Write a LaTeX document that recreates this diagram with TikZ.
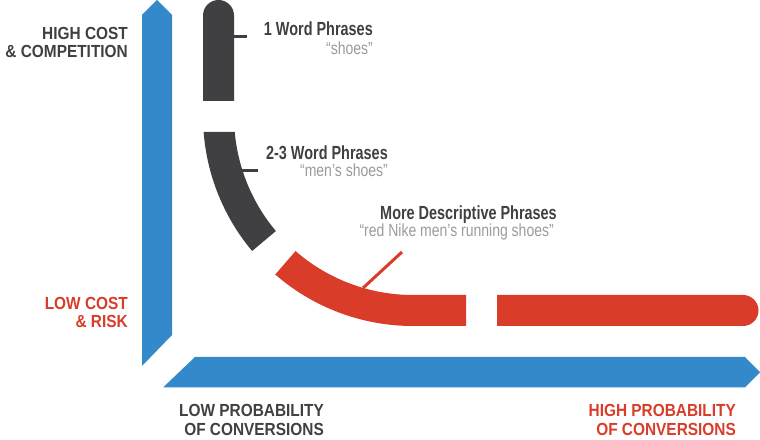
\documentclass[tikz,border=0pt]{standalone}
\usepackage{fontspec}
\setmainfont{Liberation Sans}
\newfontfamily\axisfont[FakeStretch=0.88]{Liberation Sans Bold}
\newfontfamily\titlefont[FakeStretch=0.76]{Liberation Sans Bold}
\newfontfamily\quotefont[FakeStretch=0.8]{Liberation Sans}
\definecolor{axisblue}{HTML}{3489CA}
\definecolor{keyred}{HTML}{D93C29}
\definecolor{darkgray}{HTML}{404042}
\definecolor{quotegray}{HTML}{9B9B9B}
\begin{document}
\begin{tikzpicture}[x=1pt,y=1pt,
  axislabel/.style={inner sep=0pt, anchor=base east, font=\axisfont\fontsize{17.5}{17.5}\selectfont},
  phrasetitle/.style={inner sep=0pt, anchor=base east, text=darkgray, font=\titlefont\fontsize{19}{19}\selectfont},
  phrasequote/.style={inner sep=0pt, anchor=base east, text=quotegray, font=\quotefont\fontsize{17.5}{17.5}\selectfont},
  ticker/.style={line width=3pt}]
\useasboundingbox (0,0) rectangle (760,439);
% axes
\fill[axisblue] (157,439) -- (172,424) -- (172,104) -- (142,73) -- (142,424) -- cycle;
\fill[axisblue] (163,51.5) -- (195,82) -- (745,82) -- (760,66.75) -- (745,51.5) -- cycle;
% centre of the curve
\coordinate (c) at (413,323);
% 1 word bar
\fill[darkgray] (203,338) -- (203,423.5) arc[start angle=180, end angle=0, radius=15.5pt] -- (234,338) -- cycle;
% 2-3 word arc
\fill[darkgray] (c) ++(184.37:210pt) arc[start angle=184.37, end angle=220, radius=210pt]
  -- ++(40:31pt) arc[start angle=220, end angle=185.13, radius=179pt] -- cycle;
% descriptive arc
\fill[keyred] (c) ++(229:210pt) arc[start angle=229, end angle=270, radius=210pt]
  -- (466,113) -- (466,144) -- (413,144) arc[start angle=270, end angle=229, radius=179pt] -- cycle;
\fill[keyred] (497,113) -- (743,113) arc[start angle=-90, end angle=90, radius=15.5pt] -- (497,144) -- cycle;
% ticks
\coordinate (t1a) at (234,402); \coordinate (t1b) at (247,402);
\coordinate (t2a) at (242,268); \coordinate (t2b) at (258,268);
\coordinate (t3a) at (363,151); \coordinate (t3b) at (402,187);
\draw[ticker, darkgray] (t1a) -- (t1b);
\draw[ticker, darkgray] (t2a) -- (t2b);
\draw[ticker, keyred] (t3a) -- (t3b);
% phrase labels
\node[phrasetitle] (p1) at (373,403) {1 Word Phrases};
\node[phrasequote] (q1) at (373,384) {“shoes”};
\node[phrasetitle] (p2) at (388,279.5) {2-3 Word Phrases};
\node[phrasequote] (q2) at (388,262) {“men’s shoes”};
\node[phrasetitle] (p3) at (557,219.5) {More Descriptive Phrases};
\node[phrasequote] (q3) at (554,202) {“red Nike men’s running shoes”};
% axis labels
\node[axislabel, text=darkgray] (hc1) at (128,399) {HIGH COST};
\node[axislabel, text=darkgray] (hc2) at (128,381.5) {\& COMPETITION};
\node[axislabel, text=keyred] (lc1) at (128,129) {LOW COST};
\node[axislabel, text=keyred] (lc2) at (128,111) {\& RISK};
\node[axislabel, text=darkgray] (lp1) at (324,23) {LOW PROBABILITY};
\node[axislabel, text=darkgray] (lp2) at (324,4) {OF CONVERSIONS};
\node[axislabel, text=keyred] (hp1) at (736,23) {HIGH PROBABILITY};
\node[axislabel, text=keyred] (hp2) at (736,4) {OF CONVERSIONS};
\end{tikzpicture}
\end{document}
